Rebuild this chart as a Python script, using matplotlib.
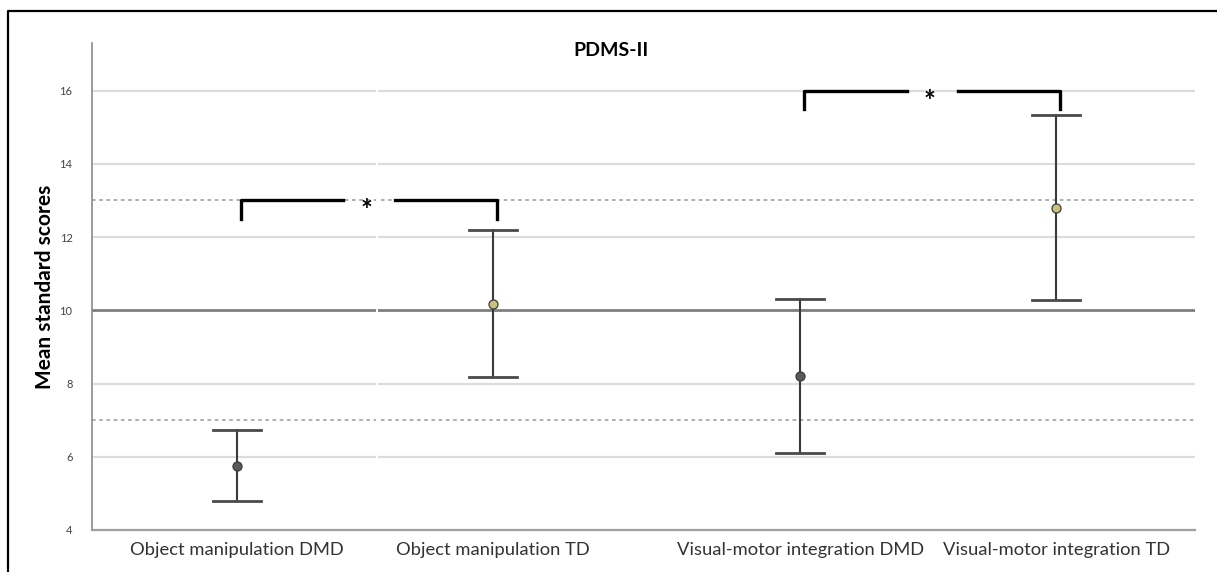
import matplotlib.pyplot as plt
from matplotlib.lines import Line2D

categories = ['Object manipulation DMD', 'Object manipulation TD',
              'Visual-motor integration DMD', 'Visual-motor integration TD']
means = [5.76, 10.17, 8.21, 12.80]
upper = [6.73, 12.18, 10.31, 15.34]
lower = [4.79, 8.18, 6.10, 10.28]
groups = ['DMD', 'TD', 'DMD', 'TD']
yticks = [4, 6, 8, 10, 12, 14, 16]

# significance brackets: (left index, right index, height)
brackets = [(0, 1, 13.0), (2, 3, 16.0)]

# layout
xpos = [0, 1, 2.2, 3.2]
marker_colors = {'DMD': '#5a5a5a', 'TD': '#c9c27a'}
font = ['Lato', 'DejaVu Sans']

fig = plt.figure(figsize=(12.17, 5.72), dpi=100)
ax = fig.add_axes([92 / 1217, 1 - 530 / 572, (1195 - 92) / 1217, (530 - 43) / 572])
ax.set_xlim(-0.566, 3.742)
ax.set_ylim(4, 17.3)

# frame around the figure (only left and top edges show)
fx, fy = 7.5 / 1217, 1 - 11 / 572
fig.lines.append(Line2D([fx, fx, 1.01], [-0.01, fy, fy], transform=fig.transFigure,
                        color='black', linewidth=1.6))

for y in yticks[1:]:
    if y == 10:
        ax.axhline(y, color='#7f7f7f', linewidth=2.0, zorder=1)
    else:
        ax.axhline(y, color='#dcdcdc', linewidth=1.6, zorder=1)
for y in [7, 13]:
    ax.axhline(y, color='#a8a8a8', linewidth=1.3, linestyle=(0, (2, 2)), zorder=1)

# small seam in the grid
ax.axvline(0.547, color='white', linewidth=1.4, zorder=1.5)

for i in range(len(categories)):
    x = xpos[i]
    ax.plot([x, x], [lower[i], upper[i]], color='#3a3a3a', linewidth=1.5, zorder=3)
    for yy in (lower[i], upper[i]):
        ax.plot([x - 0.094, x + 0.094], [yy, yy], color='#4a4a4a', linewidth=2.0, zorder=3)
    ax.plot(x, means[i], 'o', markersize=6.5, markerfacecolor=marker_colors[groups[i]],
            markeredgecolor='#3a3a3a', markeredgewidth=0.9, zorder=4)

for a, b, h in brackets:
    x0 = xpos[a] + 0.016
    x1 = xpos[b] + 0.016
    mid = (x0 + x1) / 2
    drop = 0.5
    ax.plot([x0, x0, mid - 0.1], [h - drop, h, h], color='black', linewidth=2.4,
            solid_joinstyle='round', zorder=5)
    ax.plot([mid + 0.1, x1, x1], [h, h, h - drop], color='black', linewidth=2.4,
            solid_joinstyle='round', zorder=5)
    ax.text(mid - 0.01, h - 0.3, '*', ha='center', va='center', fontsize=20,
            fontweight='bold', family=font, zorder=5)

ax.set_xticks(xpos)
ax.set_xticklabels(categories, fontsize=13.2, color='#333333', family=font)
ax.set_yticks(yticks)
ax.set_yticklabels([str(v) for v in yticks], fontsize=8, color='#444444', family=font)
ax.tick_params(axis='x', length=0, pad=9)
ax.tick_params(axis='y', length=0, pad=14)

for s in ['top', 'right']:
    ax.spines[s].set_visible(False)
ax.spines['left'].set_color('#8a8a8a')
ax.spines['left'].set_linewidth(1.2)
ax.spines['bottom'].set_color('#a0a0a0')
ax.spines['bottom'].set_linewidth(1.6)

ax.set_ylabel('Mean standard scores', fontsize=15, fontweight='bold', family=font, labelpad=3)
fig.text(611 / 1217, 1 - 50 / 572, 'PDMS-II', ha='center', va='center',
         fontsize=14, fontweight='bold', family=font)

plt.savefig('out.png', dpi=100, facecolor='white')
